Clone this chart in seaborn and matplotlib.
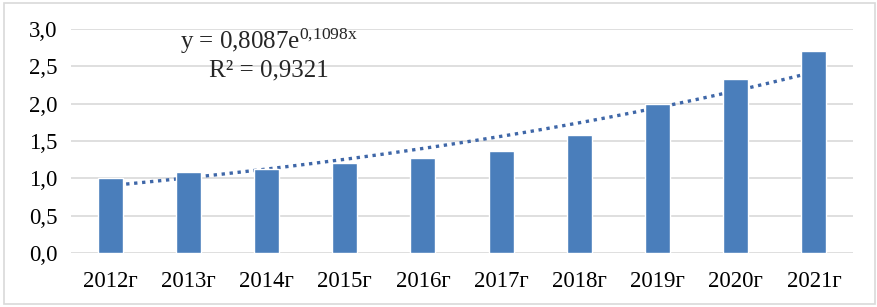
import numpy as np
import pandas as pd
import seaborn as sns
import matplotlib.pyplot as plt
from matplotlib.patches import Rectangle

years = ['2012г', '2013г', '2014г', '2015г', '2016г',
         '2017г', '2018г', '2019г', '2020г', '2021г']
values = [1.00, 1.08, 1.12, 1.20, 1.27, 1.37, 1.58, 2.00, 2.33, 2.70]
# exponential trendline coefficients, as printed on the chart
trend_a = 0.8087
trend_b = 0.1098
r_squared = 0.9321

sns.set_theme(style="white")
plt.rcParams['font.family'] = ['Liberation Serif', 'DejaVu Serif']
plt.rcParams['mathtext.fontset'] = 'custom'
plt.rcParams['mathtext.rm'] = 'Liberation Serif'
plt.rcParams['mathtext.it'] = 'Liberation Serif'

df = pd.DataFrame({'year': years, 'value': values})

fig = plt.figure(figsize=(8.78, 3.07), dpi=100)
ax = fig.add_axes([0.081, 0.176, 0.8905, 0.7295])

sns.barplot(data=df, x='year', y='value', color='#4a7ebb', saturation=1,
            width=0.32, ax=ax, zorder=3)

# trendline (behind the bars)
xs = np.linspace(1, len(years), 100)
ax.plot(xs - 1, trend_a * np.exp(trend_b * xs), color='#3f67a8',
        linestyle=(0, (1, 1.4)), linewidth=2.4, zorder=2)

ax.set_ylim(0, 3.0)
ax.set_xlim(-0.5, len(years) - 0.5)
ticks = np.arange(0, 3.01, 0.5)
ax.set_yticks(ticks)
ax.set_yticklabels([f"{t:.1f}".replace('.', ',') for t in ticks])
ax.yaxis.grid(True, color='#d9d9d9', linewidth=1.2, zorder=0)
ax.set_axisbelow(True)
for s in ax.spines.values():
    s.set_visible(False)
ax.tick_params(axis='both', length=0, labelsize=16.5, colors='black')
ax.tick_params(axis='y', pad=10)
ax.tick_params(axis='x', pad=13)
ax.set_xlabel('')
ax.set_ylabel('')

ax.text(2.03, 2.83, r"y = 0,8087e$^{\mathrm{0{,}1098x}}$", ha='center',
        va='center', fontsize=18)
ax.text(2.03, 2.44, f"R² = {r_squared:.4f}".replace('.', ','), ha='center',
        va='center', fontsize=18)

fig.patches.append(Rectangle((0.004, 0.01), 0.993, 0.98, transform=fig.transFigure,
                             fill=False, edgecolor='#d9d9d9', linewidth=1.2))

fig.savefig('out.png', dpi=100)
